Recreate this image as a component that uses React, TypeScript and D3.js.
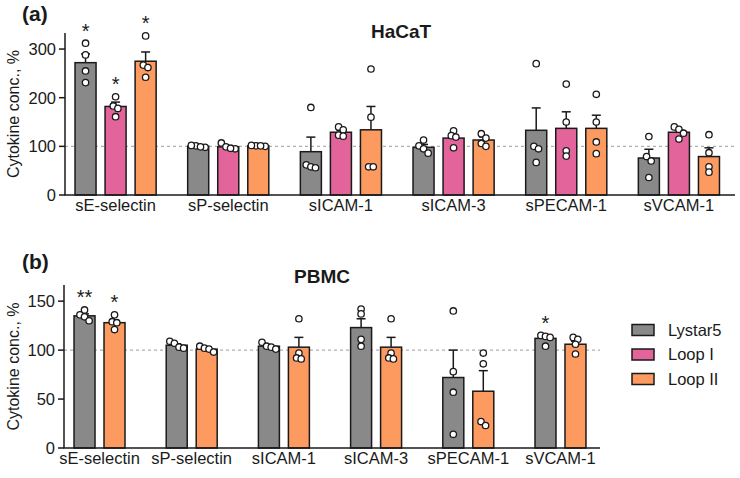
import React from 'react';
import * as d3 from 'd3';

const markers = ['sE-selectin', 'sP-selectin', 'sICAM-1', 'sICAM-3', 'sPECAM-1', 'sVCAM-1'];
const legendNames = ['Lystar5', 'Loop I', 'Loop II'];
const colors: Record<string, string> = { 'Lystar5': '#898989', 'Loop I': '#e3649a', 'Loop II': '#fd9a60' };

// HaCaT, % of control
const hacatLystar5Mean = [272, 100, 89, 98, 133, 76];
const hacatLystar5Sem = [18, 1, 30, 6, 46, 18];
const hacatLystar5Points = [[312, 288, 255, 231], [98, 101, 99, 102], [180, 62, 58, 56], [113, 101, 95, 86], [270, 100, 95, 67], [120, 79, 70, 36]];
const hacatLystar5Stars = ['*', '', '', '', '', ''];

const hacatLoop1Mean = [182, 99, 129, 117, 137, 129];
const hacatLoop1Sem = [9, 3, 4, 7, 34, 5];
const hacatLoop1Points = [[202, 183, 178, 161], [107, 99, 95, 96], [140, 134, 123, 121], [132, 122, 119, 97], [228, 150, 91, 80], [140, 135, 127, 115]];
const hacatLoop1Stars = ['*', '', '', '', '', ''];

const hacatLoop2Mean = [275, 101, 134, 113, 137, 79];
const hacatLoop2Sem = [19, 1, 48, 6, 27, 18];
const hacatLoop2Points = [[327, 267, 262, 242], [101, 100, 102, 101], [259, 160, 58, 58], [126, 117, 106, 100], [207, 150, 109, 85], [124, 87, 58, 47]];
const hacatLoop2Stars = ['*', '', '', '', '', ''];

// PBMC, % of control
const pbmcLystar5Mean = [135, 105, 104, 123, 72, 112];
const pbmcLystar5Sem = [2, 1.5, 1.5, 9, 28, 2.5];
const pbmcLystar5Points = [[141, 136, 134, 130], [109, 107, 103, 102], [108, 104, 103, 101], [142, 137, 111, 104], [140, 78, 57, 14], [115, 114, 113, 104]];
const pbmcLystar5Stars = ['**', '', '', '', '', '*'];

const pbmcLoop2Mean = [128, 101, 103, 103, 58, 106];
const pbmcLoop2Sem = [2.5, 1, 10, 10, 21, 3];
const pbmcLoop2Points = [[136, 129, 128, 121], [104, 102, 101, 98], [132, 97, 92, 91], [132, 97, 92, 91], [97, 86, 27, 23], [113, 111, 106, 96]];
const pbmcLoop2Stars = ['*', '', '', '', '', ''];

const hacatTicks = [0, 100, 200, 300];
const pbmcTicks = [0, 50, 100, 150];

type Series = { name: string; mean: number[]; sem: number[]; points: number[][]; stars: string[] };

const hacatSeries: Series[] = [
  { name: 'Lystar5', mean: hacatLystar5Mean, sem: hacatLystar5Sem, points: hacatLystar5Points, stars: hacatLystar5Stars },
  { name: 'Loop I', mean: hacatLoop1Mean, sem: hacatLoop1Sem, points: hacatLoop1Points, stars: hacatLoop1Stars },
  { name: 'Loop II', mean: hacatLoop2Mean, sem: hacatLoop2Sem, points: hacatLoop2Points, stars: hacatLoop2Stars },
];
const pbmcSeries: Series[] = [
  { name: 'Lystar5', mean: pbmcLystar5Mean, sem: pbmcLystar5Sem, points: pbmcLystar5Points, stars: pbmcLystar5Stars },
  { name: 'Loop II', mean: pbmcLoop2Mean, sem: pbmcLoop2Sem, points: pbmcLoop2Points, stars: pbmcLoop2Stars },
];

const FONT = 'Liberation Sans, Arial, Helvetica, sans-serif';
const INK = '#1a1a1a';

// spread points sitting at nearly the same height side by side
function dodge(ys: number[], d = 4.6): number[] {
  const idx = ys.map((y, i) => i).sort((a, b) => ys[a] - ys[b]);
  const off = new Array(ys.length).fill(0);
  let cluster: number[] = [];
  const flush = () => {
    cluster.forEach((k, j) => { off[k] = (j - (cluster.length - 1) / 2) * d; });
    cluster = [];
  };
  idx.forEach((k, j) => {
    if (j > 0 && ys[k] - ys[idx[j - 1]] >= d) flush();
    cluster.push(k);
  });
  flush();
  return off;
}

type PanelProps = {
  series: Series[];
  ticks: number[];
  yMax: number;
  yTop: number;
  yBottom: number;
  xAxis: [number, number];
  xRange: [number, number];
  padInner: number;
  padOuter: number;
  title: string;
  titleX: number;
  titleY: number;
  letter: string;
  letterY: number;
};

function Panel(p: PanelProps) {
  const y = d3.scaleLinear().domain([0, p.yMax]).range([p.yBottom, p.yTop]);
  const x = d3.scaleBand<string>().domain(markers).range(p.xRange).paddingInner(p.padInner).paddingOuter(p.padOuter);
  const inner = d3.scaleBand<string>().domain(p.series.map(s => s.name)).range([0, x.bandwidth()]).paddingInner(0.3);
  const bw = inner.bandwidth();
  const x0 = p.xAxis[0];
  const labelMid = (p.yTop + p.yBottom) / 2;

  return (
    <g>
      <text x={22} y={p.letterY} fontFamily={FONT} fontSize={21} fontWeight="bold" fill={INK}>{p.letter}</text>
      <text x={p.titleX} y={p.titleY} textAnchor="middle" fontFamily={FONT} fontSize={19} fontWeight="bold" fill={INK}>{p.title}</text>
      <text transform={`translate(13,${labelMid}) rotate(-90)`} dy="0.35em" textAnchor="middle" fontFamily={FONT} fontSize={16} fill={INK}>Cytokine conc., %</text>

      <line x1={x0} x2={p.xAxis[1]} y1={y(100)} y2={y(100)} stroke="#b0b0b0" strokeWidth={1.2} strokeDasharray="3,3" />

      {p.series.map(s => markers.map((m, i) => {
        const left = (x(m) as number) + (inner(s.name) as number);
        const cx = left + bw / 2;
        const top = y(s.mean[i]);
        const errTop = y(s.mean[i] + s.sem[i]);
        const pys = s.points[i].map(v => y(v));
        const offs = dodge(pys);
        const highest = Math.min(errTop, ...pys);
        return (
          <g key={s.name + m}>
            <line x1={cx} x2={cx} y1={top} y2={errTop} stroke={INK} strokeWidth={1.5} />
            <line x1={cx - 4.5} x2={cx + 4.5} y1={errTop} y2={errTop} stroke={INK} strokeWidth={1.5} />
            <rect x={left} y={top} width={bw} height={y(0) - top} fill={colors[s.name]} stroke={INK} strokeWidth={1.5} />
            {pys.map((py, k) => (
              <circle key={k} cx={cx + offs[k]} cy={py} r={3.2} fill="#fff" stroke={INK} strokeWidth={1.3} />
            ))}
            {s.stars[i] && (
              <text x={cx} y={highest - 5.5} textAnchor="middle" fontFamily={FONT} fontSize={20} fill={INK}>{s.stars[i]}</text>
            )}
          </g>
        );
      }))}

      <line x1={x0} x2={x0} y1={p.yTop} y2={p.yBottom} stroke={INK} strokeWidth={1.5} />
      <line x1={x0 - 0.75} x2={p.xAxis[1]} y1={p.yBottom} y2={p.yBottom} stroke={INK} strokeWidth={1.5} />
      {p.ticks.map(t => (
        <g key={t}>
          <line x1={x0 - 6} x2={x0} y1={y(t)} y2={y(t)} stroke={INK} strokeWidth={1.5} />
          <text x={x0 - 9} y={y(t)} dy="0.36em" textAnchor="end" fontFamily={FONT} fontSize={16.5} fill={INK}>{t}</text>
        </g>
      ))}
      {markers.map(m => (
        <text key={m} x={(x(m) as number) + x.bandwidth() / 2} y={p.yBottom + 16} textAnchor="middle" fontFamily={FONT} fontSize={16.5} fill={INK}>{m}</text>
      ))}
    </g>
  );
}

export default function App() {
  return (
    <svg width={740} height={478} style={{ position: 'absolute', left: 0, top: 0, background: '#fff' }}>
      <Panel series={hacatSeries} ticks={hacatTicks} yMax={333} yTop={33} yBottom={195}
        xAxis={[65, 735]} xRange={[61.5, 733]} padInner={0.28} padOuter={0.12}
        title="HaCaT" titleX={401} titleY={38} letter="(a)" letterY={21} />
      <Panel series={pbmcSeries} ticks={pbmcTicks} yMax={166.5} yTop={285} yBottom={448}
        xAxis={[64, 600]} xRange={[64.8, 595.2]} padInner={0.447} padOuter={0.1}
        title="PBMC" titleX={322} titleY={283} letter="(b)" letterY={269} />
      <g>
        {legendNames.map((n, i) => (
          <g key={n} transform={`translate(632,${330 + i * 24.5})`}>
            <rect x={0} y={-5.5} width={22} height={11} fill={colors[n]} stroke={INK} strokeWidth={1.5} />
            <text x={36} y={0} dy="0.36em" fontFamily={FONT} fontSize={16.5} fill={INK}>{n}</text>
          </g>
        ))}
      </g>
    </svg>
  );
}
